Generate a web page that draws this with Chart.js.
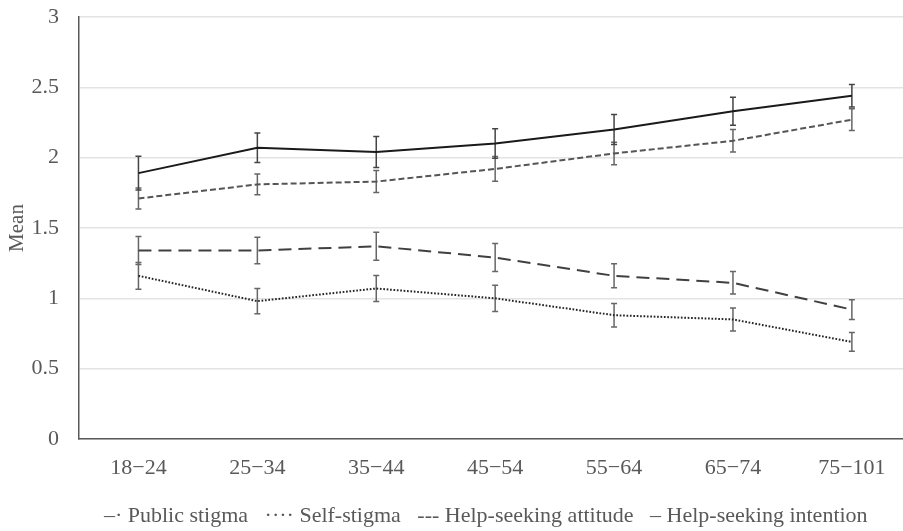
<!DOCTYPE html>
<html>
<head>
<meta charset="utf-8">
<script src="https://cdn.jsdelivr.net/npm/chart.js@4/dist/chart.umd.min.js"></script>
<style>
html,body{margin:0;padding:0;background:#fff;}
#wrap{width:903px;height:531px;position:relative;}
</style>
</head>
<body>
<div id="wrap"><canvas id="c" width="903" height="531"></canvas></div>
<script>
const categories = ['18\u221224','25\u221234','35\u221244','45\u221254','55\u221264','65\u221274','75\u2212101'];
const yTicks = [0, 0.5, 1, 1.5, 2, 2.5, 3];

const publicStigma = [1.34, 1.34, 1.37, 1.29, 1.16, 1.11, 0.92];
const publicErr    = [0.10, 0.095, 0.10, 0.10, 0.085, 0.08, 0.07];
const selfStigma   = [1.16, 0.98, 1.07, 1.00, 0.88, 0.85, 0.69];
const selfErr      = [0.095, 0.09, 0.093, 0.093, 0.084, 0.082, 0.067];
const attitude     = [1.71, 1.81, 1.83, 1.92, 2.03, 2.12, 2.27];
const attitudeErr  = [0.075, 0.073, 0.078, 0.088, 0.08, 0.08, 0.077];
const intention    = [1.89, 2.07, 2.04, 2.10, 2.20, 2.33, 2.44];
const intentionErr = [0.12, 0.105, 0.11, 0.105, 0.107, 0.10, 0.08];

const seriesNames = ['Public stigma', 'Self-stigma', 'Help-seeking attitude', 'Help-seeking intention'];
const legendGlyphs = ['\u2013\u00b7', '\u00b7\u00b7\u00b7\u00b7', '---', '\u2013'];

const FONT = "'Liberation Serif', 'Times New Roman', serif";
const TXT = '#595959';

function pts(arr){ return arr.map((v,i)=>({x:i, y:v})); }

const errorBars = {
  id: 'errorBars',
  beforeDatasetsDraw(chart){
    const ctx = chart.ctx;
    const xs = chart.scales.x, ys = chart.scales.y;
    chart.data.datasets.forEach(ds => {
      const errs = ds.errors;
      ctx.save();
      ctx.strokeStyle = ds.errColor;
      ctx.lineWidth = 1.5;
      ds.data.forEach((p,i) => {
        const x = xs.getPixelForValue(p.x);
        const yt = ys.getPixelForValue(p.y + errs[i]);
        const yb = ys.getPixelForValue(p.y - errs[i]);
        ctx.beginPath();
        ctx.moveTo(x, yt); ctx.lineTo(x, yb);
        ctx.moveTo(x-3, yt); ctx.lineTo(x+3, yt);
        ctx.moveTo(x-3, yb); ctx.lineTo(x+3, yb);
        ctx.stroke();
      });
      ctx.restore();
    });
  }
};

// nudge the library legend box into the reference's position
const legendNudge = {
  id: 'legendNudge',
  afterLayout(chart){
    const lg = chart.legend;
    if (!lg) return;
    lg.top += 6; lg.bottom += 6;
    lg.left -= 8; lg.right -= 8;
  }
};

const common = {pointRadius:0, pointHoverRadius:0, tension:0, fill:false, borderWidth:2, borderCapStyle:'butt'};

new Chart(document.getElementById('c'), {
  type: 'line',
  data: {
    datasets: [
      Object.assign({label: seriesNames[0], data: pts(publicStigma), errors: publicErr, borderColor:'#404040', borderDash:[13,7], errColor:'#666666'}, common),
      Object.assign({label: seriesNames[1], data: pts(selfStigma), errors: selfErr, borderColor:'#262626', borderDash:[1.7,1.7], errColor:'#666666'}, common),
      Object.assign({label: seriesNames[2], data: pts(attitude), errors: attitudeErr, borderColor:'#555555', borderDash:[6,3], errColor:'#666666'}, common),
      Object.assign({label: seriesNames[3], data: pts(intention), errors: intentionErr, borderColor:'#1a1a1a', borderDash:[], errColor:'#444444'}, common)
    ]
  },
  options: {
    responsive: false,
    animation: false,
    devicePixelRatio: 1,
    layout: {padding: {top: 17, right: 0, left: 0, bottom: 0}},
    plugins: {
      tooltip: {enabled:false},
      legend: {
        position: 'bottom',
        fullSize: false,
        labels: {
          font: {family: FONT, size: 22},
          color: TXT,
          boxWidth: 0,
          boxHeight: 0,
          padding: 0,
          generateLabels(chart){
            return chart.data.datasets.map((ds,i) => ({
              text: legendGlyphs[i] + ' ' + ds.label + ' ',
              fillStyle: 'rgba(0,0,0,0)',
              strokeStyle: 'rgba(0,0,0,0)',
              lineWidth: 0,
              fontColor: TXT,
              hidden: false,
              datasetIndex: i
            }));
          }
        }
      }
    },
    scales: {
      x: {
        type: 'linear',
        min: -0.5,
        max: 6.43,
        afterBuildTicks(axis){ axis.ticks = categories.map((c,i)=>({value:i})); },
        afterFit(axis){ axis.height = 60; },
        grid: {display:false, drawTicks:false},
        border: {display:true, color:'#595959', width:1.5},
        ticks: {
          padding: 16,
          autoSkip: false,
          maxRotation: 0,
          font: {family: FONT, size: 22},
          color: TXT,
          callback: (v) => categories[v]
        }
      },
      y: {
        min: 0, max: 3,
        afterBuildTicks(axis){ axis.ticks = yTicks.map(v=>({value:v})); },
        afterFit(axis){ axis.width = 79; },
        grid: {color:'#e3e3e3', lineWidth:1.5, drawTicks:true, tickLength:20, tickColor:'rgba(0,0,0,0)'},
        border: {display:true, color:'#595959', width:1.5},
        title: {display:true, text:'Mean', font:{family: FONT, size: 21}, color: TXT, padding:{top:5, bottom:0}},
        ticks: {
          padding: 0,
          font: {family: FONT, size: 22},
          color: TXT,
          callback: (v) => String(v)
        }
      }
    }
  },
  plugins: [errorBars, legendNudge]
});
</script>
</body>
</html>
